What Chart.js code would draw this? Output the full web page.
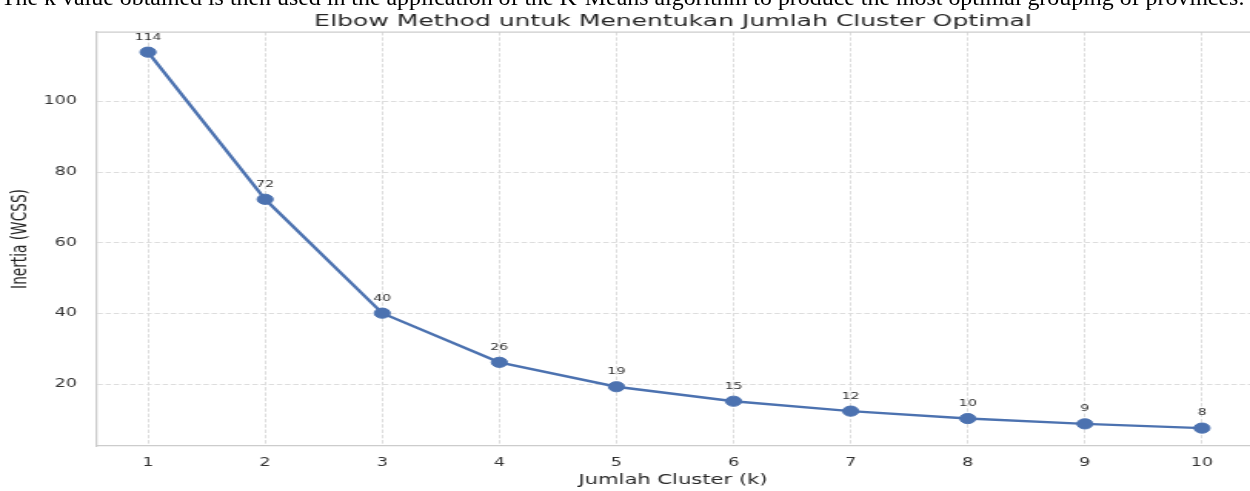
<!DOCTYPE html>
<html>
<head>
<meta charset="utf-8">
<script src="https://cdn.jsdelivr.net/npm/chart.js@4.4.1/dist/chart.umd.min.js"></script>
<style>
  html, body { margin: 0; padding: 0; background: #ffffff; overflow: hidden; }
  body { width: 1250px; height: 491px; position: relative; }
  #wrap { position: absolute; left: 0; top: 0; transform-origin: 0 0; }
  #caption { position: absolute; left: 1px; white-space: nowrap; font-family: "Liberation Serif", serif; color: #000; line-height: 1; z-index: 2; }
</style>
</head>
<body>
<div id="wrap"><canvas id="c"></canvas></div>
<div id="caption"></div>
<script>
// ---- data ----
const K_VALUES = [1, 2, 3, 4, 5, 6, 7, 8, 9, 10];
const INERTIA = [113.9, 72.3, 40.1, 26.2, 19.3, 15.2, 12.4, 10.3, 8.8, 7.6];
const X_TICKS = [1, 2, 3, 4, 5, 6, 7, 8, 9, 10];
const Y_TICKS = [20, 40, 60, 80, 100];
const TITLE = 'Elbow Method untuk Menentukan Jumlah Cluster Optimal';
const X_LABEL = 'Jumlah Cluster (k)';
const Y_LABEL = 'Inertia (WCSS)';
const CAPTION = 'The k value obtained is then used in the application of the K-Means algorithm to produce the most optimal grouping of provinces.';

// ---- layout (final image is horizontally stretched) ----
const PAGE_W = 1250, PAGE_H = 491;
const CANVAS_W = 812;
const SX = PAGE_W / CANVAS_W;
const PLOT_LEFT = 96;   // final px
const PLOT_BOTTOM = 446;

// caption (document text above the figure, clipped)
(function () {
  const cap = document.getElementById('caption');
  const mc = document.createElement('canvas').getContext('2d');
  mc.font = '100px "Liberation Serif"';
  const w = mc.measureText(CAPTION).width;
  const fs = 100 * 1244 / w;
  cap.style.fontSize = fs + 'px';
  cap.style.top = (6.5 - 0.8375 * fs) + 'px';
  cap.textContent = CAPTION;
})();

const canvas = document.getElementById('c');
canvas.width = CANVAS_W;
canvas.height = PAGE_H;
document.getElementById('wrap').style.transform = 'scaleX(' + SX + ')';

const FONT = '"DejaVu Sans", sans-serif';
const LINE = '#4c72b0';

const pointLabels = {
  id: 'pointLabels',
  afterDatasetsDraw(chart) {
    const ctx = chart.ctx;
    const meta = chart.getDatasetMeta(0);
    ctx.save();
    ctx.font = '9.2px ' + FONT;
    ctx.fillStyle = '#333333';
    ctx.textAlign = 'center';
    ctx.textBaseline = 'middle';
    meta.data.forEach((pt, i) => {
      ctx.fillText(String(Math.round(INERTIA[i])), pt.x, pt.y - 15);
    });
    ctx.restore();
  }
};

const topSpine = {
  id: 'topSpine',
  beforeDatasetsDraw(chart) {
    const { ctx, chartArea } = chart;
    ctx.save();
    ctx.strokeStyle = '#cccccc';
    ctx.lineWidth = 1.25;
    ctx.beginPath();
    ctx.moveTo(chartArea.left, chartArea.top);
    ctx.lineTo(chartArea.right, chartArea.top);
    ctx.stroke();
    ctx.restore();
  }
};

function noPad(scale) {
  scale.paddingLeft = 0; scale.paddingRight = 0;
  scale.paddingTop = 0; scale.paddingBottom = 0;
}

new Chart(canvas, {
  type: 'line',
  data: {
    datasets: [{
      data: K_VALUES.map((k, i) => ({ x: k, y: INERTIA[i] })),
      borderColor: LINE,
      backgroundColor: LINE,
      pointBackgroundColor: LINE,
      pointBorderColor: LINE,
      borderWidth: 2.4,
      pointRadius: 5.1,
      pointBorderWidth: 1,
      tension: 0,
      fill: false,
      clip: false
    }]
  },
  options: {
    responsive: false,
    animation: false,
    devicePixelRatio: 1,
    layout: { padding: 0, autoPadding: false },
    plugins: {
      legend: { display: false },
      tooltip: { enabled: false },
      title: {
        display: true,
        text: TITLE,
        fullSize: false,
        color: '#262626',
        font: { family: FONT, size: 16.3, weight: 'normal' },
        padding: { top: 12, bottom: 0.44 }
      }
    },
    scales: {
      x: {
        type: 'linear',
        min: 1 - (148 - PLOT_LEFT) / 117.1,
        max: 10 + (PAGE_W - 1202) / 117.1,
        afterFit(scale) { scale.height = PAGE_H - PLOT_BOTTOM; noPad(scale); },
        afterBuildTicks(scale) { scale.ticks = X_TICKS.map(v => ({ value: v })); },
        ticks: { color: '#333333', font: { family: FONT, size: 11.4 }, padding: 10, maxRotation: 0, autoSkip: false },
        grid: { color: '#dddddd', lineWidth: 1, drawTicks: false },
        border: { display: true, color: '#cccccc', width: 1.25, dash: [3.5, 1.8] },
        title: { display: true, text: X_LABEL, color: '#262626', font: { family: FONT, size: 13.7 }, padding: { top: 0, bottom: 2.8 } }
      },
      y: {
        type: 'linear',
        min: 2.54,
        max: 119.6,
        afterFit(scale) { scale.width = PLOT_LEFT / SX; noPad(scale); },
        afterBuildTicks(scale) { scale.ticks = Y_TICKS.map(v => ({ value: v })); },
        ticks: { color: '#333333', font: { family: FONT, size: 11.4 }, padding: 12.4 },
        grid: { color: '#dddddd', lineWidth: 1, drawTicks: false },
        border: { display: true, color: '#cccccc', width: 1.25, dash: [3.5, 1.8] },
        title: { display: true, text: Y_LABEL, color: '#262626', font: { family: FONT, size: 13.7 }, padding: { top: 4.8, bottom: 0 } }
      }
    }
  },
  plugins: [topSpine, pointLabels]
});
</script>
</body>
</html>
